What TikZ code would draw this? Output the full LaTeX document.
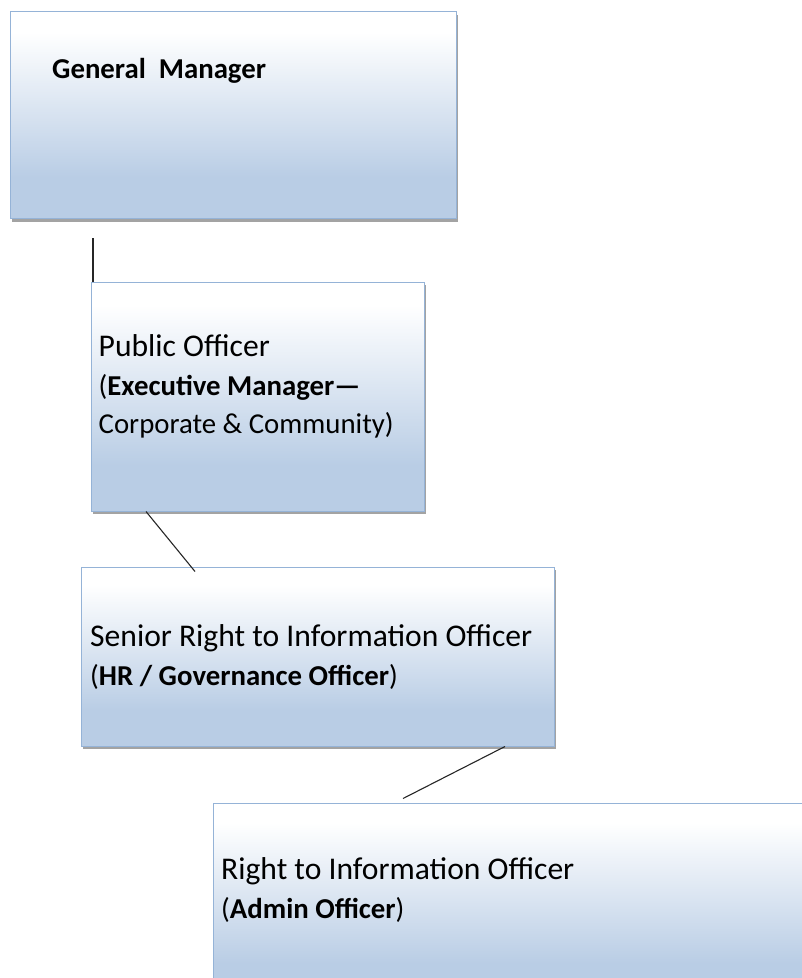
\documentclass[tikz,border=0pt]{standalone}
\usepackage{fontspec}
\setmainfont{Carlito}
\usepackage{tikz}
\usetikzlibrary{positioning, shadows}

\definecolor{boxblue}{RGB}{185,205,229}
\definecolor{boxline}{RGB}{149,179,215}
\pgfdeclareverticalshading{officefill}{100bp}{color(0bp)=(boxblue); color(25bp)=(boxblue); color(35bp)=(boxblue); color(70bp)=(white); color(100bp)=(white)}
\newcommand{\headline}[1]{{\fontsize{31.6}{38.5}\selectfont #1}}

\begin{document}
\begin{tikzpicture}[x=1pt, y=-1pt,
					office/.style={rectangle, draw=boxline, line width=1pt, shade, shading=officefill,
						anchor=north west, inner sep=0pt,
						drop shadow={shadow xshift=1.5pt, shadow yshift=-3pt, fill=black!60, opacity=.6}},
					boxtext/.style={anchor=base west, align=left, inner sep=0pt,
						font=\fontsize{28.8}{38.5}\selectfont},
					link/.style={line width=1.1pt, draw=black!85}]

	\useasboundingbox (0,0) rectangle (802,978);
	\clip (0,0) rectangle (802,978);

	\node[office, minimum width=446pt, minimum height=207pt] (gm) at (10,11) {};
	\node[office, minimum width=333pt, minimum height=229pt] (po) at (91,281.5) {};
	\node[office, minimum width=473pt, minimum height=179pt] (sr) at (81,566.5) {};
	\node[office, minimum width=620pt, minimum height=200pt] (ri) at (212.5,802.5) {};

	% base west of a multi-line text is the baseline of its last line
	\node[boxtext] (gmtext) at ([shift={(42,67)}]gm.north west) {\textbf{General\ \ Manager}};
	\node[boxtext] (potext) at ([shift={(7.5,152)}]po.north west)
		{\headline{Public Officer}\\(\textbf{Executive Manager—}\\Corporate \& Community)};
	\node[boxtext] (srtext) at ([shift={(9,118.5)}]sr.north west)
		{\headline{Senior Right to Information Officer}\\(\textbf{HR / Governance Officer})};
	\node[boxtext] (ritext) at ([shift={(8.5,115.5)}]ri.north west)
		{\headline{Right to Information Officer}\\(\textbf{Admin Officer})};

	\coordinate (gmtail) at ([shift={(83,19)}]gm.south west);
	\coordinate (ritail) at ([shift={(190.5,-4)}]ri.north west);
	\draw[link] (gmtail) -- (gmtail |- po.north);
	\draw[link] ([shift={(55,0)}]po.south west) -- ([shift={(114,5)}]sr.north west);
	\draw[link] ([shift={(424,0)}]sr.south west) -- (ritail);
\end{tikzpicture}
\end{document}
